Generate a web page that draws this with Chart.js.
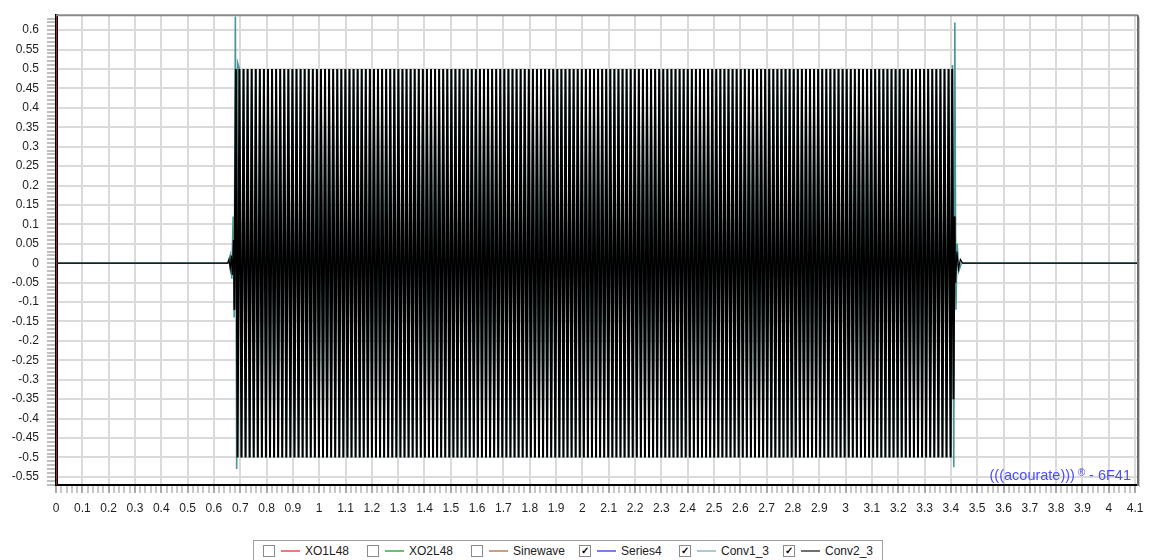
<!DOCTYPE html>
<html>
<head>
<meta charset="utf-8">
<script src="https://cdn.jsdelivr.net/npm/chart.js@4"></script>
<style>
  body { margin: 0; background: #fff; width: 1153px; height: 560px; overflow: hidden; font-family: "Liberation Sans", Arial, sans-serif; }
  #wrap { position: absolute; left: 0; top: 0; width: 1153px; height: 530px; }
  #legend { position: absolute; left: 253px; top: 540px; width: 630px; height: 28px; border: 1px solid #a0a0a0; border-bottom: none; box-sizing: border-box; }
  .item { position: absolute; top: 3px; height: 14px; display: flex; align-items: center; font-size: 12px; color: #222; white-space: nowrap; }
  .box { width: 10px; height: 10px; border: 1px solid #8a8a8a; background: #fff; font-size: 10px; line-height: 10px; text-align: center; font-weight: bold; color: #000; }
  .line { width: 19px; height: 2px; margin: 0 5px 0 6px; }
</style>
</head>
<body>
<div id="wrap"><canvas id="chart"></canvas></div>
<div id="legend"></div>
<script>
// series shown in the legend
var seriesNames = ['XO1L48', 'XO2L48', 'Sinewave', 'Series4', 'Conv1_3', 'Conv2_3'];
var seriesColors = ['#f07a7a', '#6cbf6c', '#c8a07e', '#7c7cf5', '#a8cccc', '#707070'];
var seriesChecked = [false, false, false, true, true, true];
var legendLeft = [9, 113, 217, 325, 425, 529];

var xRange = [0, 4.111];
var yRange = [-0.571, 0.6385];

// Conv2_3 (black) before and after the burst
var conv2HeadX = [0, 0.652, 0.657, 0.662, 0.666, 0.670, 0.674, 0.678, 0.6835, 0.690];
var conv2HeadY = [0, 0, 0.01, -0.015, 0.02, -0.03, 0.06, -0.12, 0.5, -0.5];
var conv2TailX = [3.405, 3.410, 3.414, 3.418, 3.423, 3.429, 3.436, 3.445, 4.111];
var conv2TailY = [0.5, -0.35, 0.12, -0.05, 0.03, -0.015, 0.01, 0, 0];

// Conv1_3 (teal) before and after the burst
var conv1HeadX = [0, 0.655, 0.662, 0.668, 0.673, 0.677, 0.6815, 0.6865, 0.6905];
var conv1HeadY = [0, 0, 0.02, -0.04, 0.12, -0.14, 0.635, -0.53, 0.515];
var conv1TailX = [3.406, 3.411, 3.415, 3.419, 3.424, 3.430, 3.440, 4.111];
var conv1TailY = [0.51, -0.525, 0.62, -0.12, 0.05, -0.02, 0, 0];

// burst peaks
var burstStart = 0.697, burstEnd = 3.399;
var burstY = [
0.5,-0.5,0.5,-0.5,0.5,-0.5,0.5,-0.5,0.5,-0.5,0.5,-0.5,0.5,-0.5,0.5,-0.5,0.5,-0.5,0.5,-0.5,
0.5,-0.5,0.5,-0.5,0.5,-0.5,0.5,-0.5,0.5,-0.5,0.5,-0.5,0.5,-0.5,0.5,-0.5,0.5,-0.5,0.5,-0.5,
0.5,-0.5,0.5,-0.5,0.5,-0.5,0.5,-0.5,0.5,-0.5,0.5,-0.5,0.5,-0.5,0.5,-0.5,0.5,-0.5,0.5,-0.5,
0.5,-0.5,0.5,-0.5,0.5,-0.5,0.5,-0.5,0.5,-0.5,0.5,-0.5,0.5,-0.5,0.5,-0.5,0.5,-0.5,0.5,-0.5,
0.5,-0.5,0.5,-0.5,0.5,-0.5,0.5,-0.5,0.5,-0.5,0.5,-0.5,0.5,-0.5,0.5,-0.5,0.5,-0.5,0.5,-0.5,
0.5,-0.5,0.5,-0.5,0.5,-0.5,0.5,-0.5,0.5,-0.5,0.5,-0.5,0.5,-0.5,0.5,-0.5,0.5,-0.5,0.5,-0.5,
0.5,-0.5,0.5,-0.5,0.5,-0.5,0.5,-0.5,0.5,-0.5,0.5,-0.5,0.5,-0.5,0.5,-0.5,0.5,-0.5,0.5,-0.5,
0.5,-0.5,0.5,-0.5,0.5,-0.5,0.5,-0.5,0.5,-0.5,0.5,-0.5,0.5,-0.5,0.5,-0.5,0.5,-0.5,0.5,-0.5,
0.5,-0.5,0.5,-0.5,0.5,-0.5,0.5,-0.5,0.5,-0.5,0.5,-0.5,0.5,-0.5,0.5,-0.5,0.5,-0.5,0.5,-0.5,
0.5,-0.5,0.5,-0.5,0.5,-0.5,0.5,-0.5,0.5,-0.5,0.5,-0.5,0.5,-0.5,0.5,-0.5,0.5,-0.5,0.5,-0.5,
0.5,-0.5,0.5,-0.5,0.5,-0.5,0.5,-0.5,0.5,-0.5,0.5,-0.5,0.5,-0.5,0.5,-0.5,0.5,-0.5,0.5,-0.5,
0.5,-0.5,0.5,-0.5,0.5,-0.5,0.5,-0.5,0.5,-0.5,0.5,-0.5,0.5,-0.5,0.5,-0.5,0.5,-0.5,0.5,-0.5,
0.5,-0.5,0.5,-0.5,0.5,-0.5,0.5,-0.5,0.5,-0.5,0.5,-0.5,0.5,-0.5,0.5,-0.5,0.5,-0.5,0.5,-0.5,
0.5,-0.5,0.5,-0.5,0.5,-0.5,0.5,-0.5,0.5,-0.5,0.5,-0.5,0.5,-0.5,0.5,-0.5,0.5,-0.5,0.5,-0.5,
0.5,-0.5,0.5,-0.5,0.5,-0.5,0.5,-0.5,0.5,-0.5,0.5,-0.5,0.5,-0.5,0.5,-0.5,0.5,-0.5,0.5,-0.5,
0.5,-0.5,0.5,-0.5,0.5,-0.5,0.5,-0.5,0.5,-0.5,0.5,-0.5,0.5,-0.5,0.5,-0.5,0.5,-0.5,0.5,-0.5,
0.5,-0.5,0.5,-0.5,0.5,-0.5,0.5,-0.5,0.5,-0.5,0.5,-0.5,0.5,-0.5,0.5,-0.5,0.5,-0.5,0.5,-0.5,
0.5,-0.5,0.5,-0.5,0.5,-0.5,0.5,-0.5,0.5,-0.5
];

// marker line at x = 0
var markerX = [0, 0];
var markerY = [-0.571, 0.6385];

function toPoints(xs, ys) {
  var pts = [];
  for (var i = 0; i < xs.length; i++) pts.push({ x: xs[i], y: ys[i] });
  return pts;
}

var burstPts = [];
for (var i = 0; i < burstY.length; i++) {
  burstPts.push({ x: burstStart + i * (burstEnd - burstStart) / (burstY.length - 1), y: burstY[i] });
}

var conv2Data = toPoints(conv2HeadX, conv2HeadY).concat(burstPts, toPoints(conv2TailX, conv2TailY));
var conv1Data = toPoints(conv1HeadX, conv1HeadY).concat(burstPts, toPoints(conv1TailX, conv1TailY));

function isMulti(v, step) {
  var r = v / step;
  return Math.abs(r - Math.round(r)) < 1e-6;
}
function fmt(v) {
  return String(Number(v.toFixed(2)));
}
// thin line on the quiet parts, thicker strokes in the burst
function segWidth(c) {
  var a = c.p0.parsed.y, b = c.p1.parsed.y;
  return (Math.abs(a) < 0.2 && Math.abs(b) < 0.2) ? 1.2 : 2.0;
}

// legend (html, like the checkbox list under the original plot)
var legend = document.getElementById('legend');
for (var k = 0; k < seriesNames.length; k++) {
  var it = document.createElement('div');
  it.className = 'item';
  it.style.left = legendLeft[k] + 'px';
  it.innerHTML = '<span class="box">' + (seriesChecked[k] ? '&#10003;' : '') + '</span>' +
    '<span class="line" style="background:' + seriesColors[k] + '"></span>' +
    '<span>' + seriesNames[k] + '</span>';
  legend.appendChild(it);
}

var framePlugin = {
  id: 'frame',
  afterDraw: function (chart) {
    var ctx = chart.ctx, a = chart.chartArea;
    ctx.save();
    ctx.strokeStyle = '#8a8a8a';
    ctx.lineWidth = 2;
    ctx.beginPath();
    ctx.moveTo(a.left, a.top);
    ctx.lineTo(a.right, a.top);
    ctx.stroke();
    ctx.strokeStyle = '#6e6e6e';
    ctx.lineWidth = 2;
    ctx.beginPath();
    ctx.moveTo(a.right, a.top);
    ctx.lineTo(a.right, a.bottom + 1);
    ctx.stroke();
    ctx.strokeStyle = '#c8c8c8';
    ctx.lineWidth = 1;
    ctx.beginPath();
    ctx.moveTo(a.right + 1.5, a.top + 2);
    ctx.lineTo(a.right + 1.5, a.bottom + 2);
    ctx.stroke();

    // watermark
    ctx.fillStyle = '#4b4bff';
    ctx.textBaseline = 'alphabetic';
    ctx.textAlign = 'left';
    var big = '14.5px "Liberation Sans", Arial, sans-serif';
    var small = '10px "Liberation Sans", Arial, sans-serif';
    ctx.font = big;
    var t1 = '(((acourate)))', t3 = ' - 6F41';
    var w1 = ctx.measureText(t1).width, w3 = ctx.measureText(t3).width;
    ctx.font = small;
    var w2 = ctx.measureText(' \u00AE').width;
    var xr = a.right - 7, yb = a.bottom - 5;
    var x0 = xr - w1 - w2 - w3;
    ctx.font = big;
    ctx.fillText(t1, x0, yb);
    ctx.fillText(t3, x0 + w1 + w2, yb);
    ctx.font = small;
    ctx.fillText(' \u00AE', x0 + w1, yb - 4);
    ctx.restore();
  }
};

new Chart(document.getElementById('chart'), {
  type: 'line',
  data: {
    datasets: [{
      label: 'Conv2_3',
      data: conv2Data,
      borderColor: '#000000',
      borderWidth: 2.0,
      segment: { borderWidth: segWidth },
      pointRadius: 0,
      tension: 0,
      order: 1
    }, {
      label: 'Conv1_3',
      data: conv1Data,
      borderColor: '#4b9595',
      borderWidth: 1.6,
      pointRadius: 0,
      tension: 0,
      order: 2
    }, {
      label: 'marker',
      data: toPoints(markerX, markerY),
      borderColor: '#9a2a2a',
      borderWidth: 2,
      pointRadius: 0,
      order: 0
    }]
  },
  options: {
    responsive: true,
    maintainAspectRatio: false,
    animation: false,
    events: [],
    layout: { padding: { top: 13, right: 15, left: 0, bottom: 0 } },
    plugins: { legend: { display: false }, tooltip: { enabled: false } },
    scales: {
      x: {
        type: 'linear',
        min: xRange[0],
        max: xRange[1],
        afterFit: function (s) { s.height = 45; },
        border: { color: '#000', width: 2 },
        grid: {
          color: function (c) { return isMulti(c.tick.value, 0.1) ? '#dadada' : 'rgba(0,0,0,0)'; },
          lineWidth: 2,
          tickLength: 8,
          tickColor: function (c) { return isMulti(c.tick.value, 0.1) ? '#8c8c8c' : '#b4b4b4'; },
          tickWidth: 1.5
        },
        ticks: {
          stepSize: 0.02,
          autoSkip: false,
          maxRotation: 0,
          includeBounds: false,
          padding: 8,
          color: '#1e1e1e',
          font: { family: '"Liberation Sans", Arial, sans-serif', size: 12 },
          callback: function (v) { return isMulti(v, 0.1) ? fmt(v) : ''; }
        }
      },
      y: {
        type: 'linear',
        min: yRange[0],
        max: yRange[1],
        afterFit: function (s) { s.width = 56; },
        border: { color: '#000', width: 3 },
        grid: {
          color: function (c) { return isMulti(c.tick.value, 0.05) ? '#dadada' : 'rgba(0,0,0,0)'; },
          lineWidth: 2,
          tickLength: 9,
          tickColor: '#a8a8a8',
          tickWidth: 1.5
        },
        ticks: {
          stepSize: 0.01,
          autoSkip: false,
          includeBounds: false,
          padding: 8,
          color: '#1e1e1e',
          font: { family: '"Liberation Sans", Arial, sans-serif', size: 12 },
          callback: function (v) { return isMulti(v, 0.05) ? fmt(v) : ''; }
        }
      }
    }
  },
  plugins: [framePlugin]
});
</script>
</body>
</html>
